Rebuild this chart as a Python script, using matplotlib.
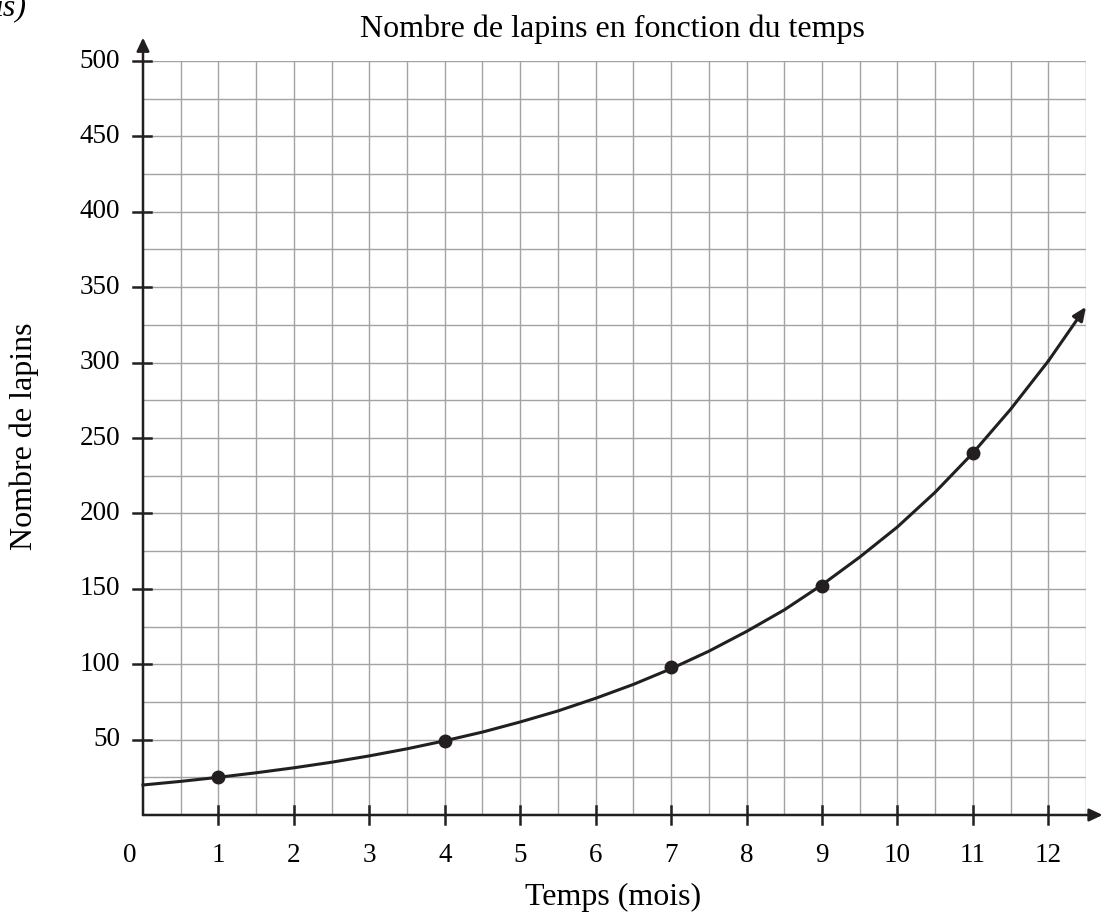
import matplotlib
matplotlib.use("Agg")
import matplotlib.pyplot as plt

# data
point_months = [1, 4, 7, 9, 11]
point_rabbits = [25, 49, 98, 152, 240]
curve_months = [0, 0.5, 1, 1.5, 2, 2.5, 3, 3.5, 4, 4.5, 5, 5.5, 6, 6.5, 7, 7.5,
                8, 8.5, 9, 9.5, 10, 10.5, 11, 11.5, 12, 12.5]
curve_rabbits = [19.9, 22.3, 25, 28, 31.3, 35, 39.2, 43.9, 49.2, 55, 61.7, 69,
                 77.4, 86.6, 97, 108.6, 121.7, 136, 152.6, 171, 191, 214, 240,
                 269, 301, 337]
x_ticks = [1, 2, 3, 4, 5, 6, 7, 8, 9, 10, 11, 12]
y_ticks = [50, 100, 150, 200, 250, 300, 350, 400, 450, 500]

W, H = 1102, 921
plt.rcParams['font.family'] = ['Liberation Serif', 'DejaVu Serif']
fig = plt.figure(figsize=(W / 100, H / 100), dpi=100)
L, R, B, T = 143, 1086, 815, 61
ax = fig.add_axes([L / W, (H - B) / H, (R - L) / W, (B - T) / H])
ax.set_xlim(0, 12.5)
ax.set_ylim(0, 500)
for s in ax.spines.values():
    s.set_visible(False)
ax.set_xticks([])
ax.set_yticks([])

ink = '#231f20'
gridc = '#a3a3a3'
# grid
gx = [i * 0.5 for i in range(1, 26)]
gy = [i * 25 for i in range(1, 21)]
for v in gx:
    ax.axvline(v, color=gridc, lw=1.0, zorder=1)
for v in gy:
    ax.axhline(v, color=gridc, lw=1.0, zorder=1)

astyle = '-|>,head_length=0.8,head_width=0.38'
# axes with arrows
ax.annotate('', xy=(0, 515.5), xytext=(0, 0), xycoords='data',
            arrowprops=dict(arrowstyle=astyle, color=ink, lw=1.8,
                            shrinkA=0, shrinkB=0), annotation_clip=False, zorder=5)
ax.annotate('', xy=(12.72, 0), xytext=(0, 0), xycoords='data',
            arrowprops=dict(arrowstyle=astyle, color=ink, lw=1.8,
                            shrinkA=0, shrinkB=0), annotation_clip=False, zorder=5)

# ticks
for t in x_ticks:
    ax.plot([t, t], [-6, 6], color=ink, lw=1.8, clip_on=False, zorder=5)
    ax.text(t, -27, str(t), ha='center', va='center', fontsize=19.5, color='black')
ax.text(-0.17, -27, '0', ha='center', va='center', fontsize=19.5, color='black')
for t in y_ticks:
    ax.plot([-0.13, 0.11], [t, t], color=ink, lw=1.8, clip_on=False, zorder=5)
    ax.text(-0.3, t, str(t), ha='right', va='center', fontsize=19.5, color='black')

# curve
ax.plot(curve_months[:-1], curve_rabbits[:-1], color=ink, lw=2.2, zorder=4, clip_on=False)
ax.annotate('', xy=(curve_months[-1], curve_rabbits[-1]),
            xytext=(curve_months[-2], curve_rabbits[-2]),
            arrowprops=dict(arrowstyle='-|>,head_length=0.8,head_width=0.35', color=ink, lw=2.2,
                            shrinkA=0, shrinkB=0), annotation_clip=False, zorder=4)
ax.plot(point_months, point_rabbits, 'o', color=ink, ms=9, zorder=6)

fig.text(612 / W, 1 - 29 / H, 'Nombre de lapins en fonction du temps', ha='center',
         va='center', fontsize=23, color='black')
fig.text(613 / W, 1 - 897 / H, 'Temps (mois)', ha='center', va='center', fontsize=23,
         color='black')
fig.text(24 / W, 1 - 436 / H, 'Nombre de lapins', ha='center', va='center', fontsize=23,
         rotation=90, color='black')
fig.text(26 / W, 1 - 15 / H, 'is)', ha='right', va='baseline', fontsize=23, style='italic',
         color='black')

fig.savefig('out.png', dpi=100)
